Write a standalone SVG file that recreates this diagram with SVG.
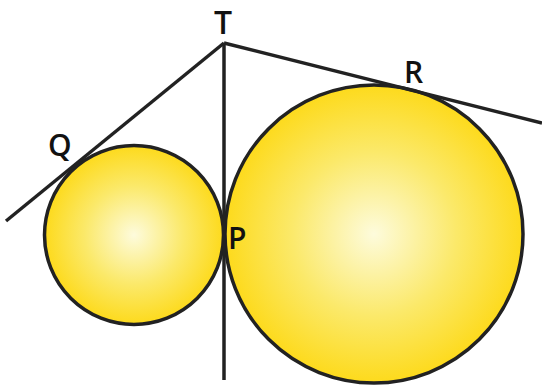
<svg xmlns="http://www.w3.org/2000/svg" width="542" height="386" viewBox="0 0 542 386">
<style>
.c{stroke:#222;stroke-width:3.5;fill:url(#g)}
.l{stroke:#222;stroke-width:3.5;fill:none}
.t{font-family:"Open Sans","Liberation Sans",sans-serif;font-weight:600;font-size:30px;fill:#111}
</style>
<defs>
<radialGradient id="g" cx="0.5" cy="0.5" r="0.5">
<stop offset="0" stop-color="#fdfbdc"/>
<stop offset="0.55" stop-color="#fbe96a"/>
<stop offset="1" stop-color="#fdda1c"/>
</radialGradient>
</defs>
<g id="small-circle"><circle class="c" cx="134" cy="235" r="89.5"/></g>
<g id="large-circle"><circle class="c" cx="374" cy="234" r="149"/></g>
<g id="connectors">
<line class="l" x1="224" y1="43" x2="224" y2="380"/>
<line class="l" x1="224" y1="43" x2="6" y2="221"/>
<line class="l" x1="224" y1="43" x2="542" y2="123"/>
</g>
<g id="T"><text class="t" x="223" y="34" text-anchor="middle" style="font-size:32px">T</text></g>
<g id="Q"><text class="t" x="48" y="156">Q</text></g>
<g id="R"><text class="t" x="404" y="83">R</text></g>
<g id="P"><text class="t" x="228" y="249">P</text></g>
</svg>
